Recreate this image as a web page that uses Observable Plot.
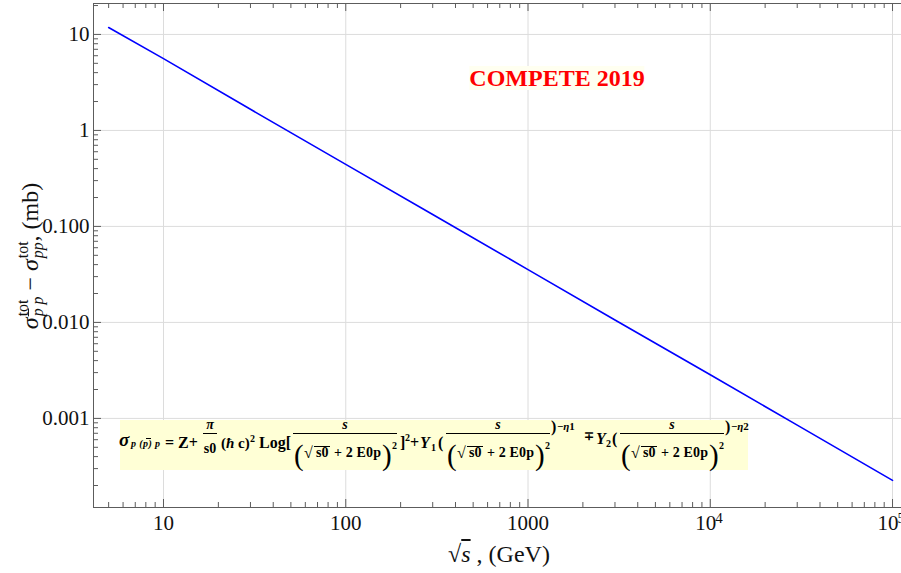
<!DOCTYPE html>
<html><head><meta charset="utf-8">
<script src="https://cdn.jsdelivr.net/npm/d3@7"></script>
<script src="https://cdn.jsdelivr.net/npm/@observablehq/plot@0.6"></script>
<style>
html,body{margin:0;padding:0;background:#fff;overflow:hidden}
#wrap{position:relative;width:901px;height:573px;font-family:"Liberation Serif","Times New Roman",serif;color:#111}
#wrap svg{position:absolute;left:0;top:0}
.ov{position:absolute;white-space:nowrap}
#title{left:557px;top:66px;transform:translateX(-50%);font-size:24px;line-height:24px;font-weight:bold;color:#f00;background:#fffff0}
#xlab{left:499px;top:542px;transform:translateX(-50%);font-size:24px;line-height:24px}
#ylab{left:30px;top:256px;transform:translate(-50%,-50%) rotate(-90deg);font-size:24px;line-height:24px}
.ss{display:inline-flex;flex-direction:column;font-size:0.66em;line-height:0.95;vertical-align:0.62em;margin-left:1px}
.ovl{text-decoration:overline}
i{font-style:italic}
</style></head><body><div id="wrap"></div>
<script>
// data
const sqrtS = [5, 10, 30, 100, 300, 1000, 3000, 10000, 30000, 100000];
const diff  = [11.8, 5.6, 1.66, 0.443, 0.133, 0.0355, 0.0106, 0.00285, 0.00085, 0.000226];

// axes
const xMin = 4.13, xMax = 1.12e5, yMin = 1.18e-4, yMax = 21;
const xMajor = [10, 100, 1000, 1e4, 1e5];
const xLabelBase = ["10", "100", "1000", "10", "10"];
const xLabelExp = ["", "", "", "4", "5"];
const yMajor = [0.001, 0.01, 0.1, 1, 10];
const yLabels = ["0.001", "0.010", "0.100", "1", "10"];

const xMinor = [];
for (let e = 0; e <= 4; e++) for (let m = 2; m <= 9; m++) { const v = m * 10 ** e; if (v > xMin && v < xMax) xMinor.push(v); }
const yMinor = [];
for (let e = -4; e <= 1; e++) for (let m = 2; m <= 9; m++) { const v = +(m * 10 ** e).toPrecision(3); if (v > yMin && v < yMax) yMinor.push(v); }

const W = 901, H = 573, ML = 93, MR = 0, MT = 3, MB = 66;
const FW = W - ML - MR, FH = H - MT - MB;
const frameColor = "#5c5c5c", gridColor = "#dcdcdc";
const font = "Liberation Serif";

const plain = xMajor.map((x, i) => ({x, t: xLabelBase[i], e: xLabelExp[i]}));

const plot = Plot.plot({
  width: W, height: H,
  marginLeft: ML, marginRight: MR, marginTop: MT, marginBottom: MB,
  x: {type: "log", domain: [xMin, xMax], axis: null},
  y: {type: "log", domain: [yMin, yMax], axis: null},
  style: {background: "transparent"},
  marks: [
    Plot.ruleX(xMajor, {x: d => d, stroke: gridColor, strokeWidth: 1}),
    Plot.ruleY(yMajor, {y: d => d, stroke: gridColor, strokeWidth: 1}),
    Plot.line(sqrtS.map((x, i) => ({x, y: diff[i]})), {x: "x", y: "y", stroke: "#0000ff", strokeWidth: 1.6}),
    Plot.ruleX([xMin], {x: d => d, stroke: frameColor}),
    Plot.ruleY([yMin], {y: d => d, stroke: frameColor}),
    Plot.ruleY([yMax], {y: d => d, stroke: frameColor}),
    Plot.tickX(xMinor, {x: d => d, insetTop: FH - 5, stroke: frameColor}),
    Plot.tickX(xMajor, {x: d => d, insetTop: FH - 8, stroke: frameColor}),
    Plot.tickX(xMinor, {x: d => d, insetBottom: FH - 5, stroke: frameColor}),
    Plot.tickX(xMajor, {x: d => d, insetBottom: FH - 8, stroke: frameColor}),
    Plot.tickY(yMinor, {y: d => d, insetRight: FW - 5, stroke: frameColor}),
    Plot.tickY(yMajor, {y: d => d, insetRight: FW - 8, stroke: frameColor}),
    Plot.text(yMajor, {x: xMin, y: d => d, text: (d, i) => yLabels[i], dx: -4, textAnchor: "end", fontSize: 21, fontFamily: font, fill: "#111"}),
    Plot.text(plain.filter(d => !d.e), {x: "x", y: yMin, text: "t", dy: 15.5, fontSize: 21, fontFamily: font, fill: "#111"}),
    Plot.text(plain.filter(d => d.e), {x: "x", y: yMin, text: "t", dy: 15.5, dx: -4.5, fontSize: 21, fontFamily: font, fill: "#111"}),
    Plot.text(plain.filter(d => d.e), {x: "x", y: yMin, text: "e", dy: 11, dx: 5, textAnchor: "start", fontSize: 15, fontFamily: font, fill: "#111"})
  ]
});

const wrap = document.getElementById("wrap");
wrap.appendChild(plot);

// formula annotation (pixel-placed text pieces)
function t(x, y, txt, size, o = {}) {
  return `<text x="${x}" y="${y}" font-size="${size}"${o.it ? ' font-style="italic"' : ''} font-weight="${o.nb ? 'normal' : 'bold'}"${o.w ? ` textLength="${o.w}" lengthAdjust="spacing"` : ''}${o.mid ? ' text-anchor="middle"' : ''}>${txt}</text>`;
}
function ln(x1, y1, x2, y2) { return `<line x1="${x1}" y1="${y1}" x2="${x2}" y2="${y2}" stroke="#000" stroke-width="1"/>`; }
function frac(x0) {
  return [
    t(x0 + 51, 429, "s", 14, {it: true, mid: true}),
    ln(x0 - 1, 433.5, x0 + 103, 433.5),
    t(x0, 465, "(", 29, {nb: true}),
    t(x0 + 10, 458, "√", 16),
    ln(x0 + 20, 446.5, x0 + 36, 446.5),
    t(x0 + 22, 457, "s0", 14),
    t(x0 + 40, 457, "+ 2 E0p", 14, {w: 47}),
    t(x0 + 88, 465, ")", 29, {nb: true}),
    t(x0 + 98, 449, "2", 10)
  ].join("");
}
const parts = [
  `<rect x="120" y="420" width="628" height="50" fill="#ffffd6"/>`,
  t(119, 446, "σ", 19, {it: true}),
  t(131, 447, "p (p) p", 10, {it: true, w: 29}),
  ln(146, 438.5, 151, 438.5),
  t(165, 448, "= Z+", 16),
  t(210, 429, "π", 14, {it: true, mid: true}),
  ln(203, 433.5, 217, 433.5),
  t(210, 452.5, "s0", 14, {mid: true}),
  `<text x="221" y="448" font-size="15" font-weight="bold">(<tspan font-style="italic">ħ</tspan> c)</text>`,
  t(250, 442, "2", 10),
  t(259, 448, "Log[", 16),
  frac(294),
  t(400, 448, "]", 16),
  t(405, 441, "2", 10),
  t(410, 448, "+", 16),
  t(420, 448, "Y", 16, {it: true}),
  t(431, 451, "1", 10),
  t(438, 448, "(", 16),
  frac(447),
  t(551, 432, ")", 16),
  `<text x="557" y="430" font-size="11" font-weight="bold">−<tspan font-style="italic">η</tspan>1</text>`,
  t(584, 440, "∓", 12),
  t(596, 444, "Y", 16, {it: true}),
  t(606, 447, "2", 10),
  t(612, 444, "(", 16),
  frac(621),
  t(725, 432, ")", 16),
  `<text x="731" y="430" font-size="11" font-weight="bold">−<tspan font-style="italic">η</tspan>2</text>`
];
wrap.insertAdjacentHTML("beforeend", `
<svg width="${W}" height="${H}" font-family="Liberation Serif, Times New Roman, serif" fill="#000" style="pointer-events:none">${parts.join("")}</svg>
<div id="title" class="ov">COMPETE 2019</div>
<div id="xlab" class="ov">√<i class="ovl">s</i> , (GeV)</div>
<div id="ylab" class="ov"><i>σ</i><span class="ss"><span>tot</span><span><i><span class="ovl">p</span> p</i></span></span> − <i>σ</i><span class="ss"><span>tot</span><span><i>pp</i></span></span>, (mb)</div>
`);
</script>
</body></html>
